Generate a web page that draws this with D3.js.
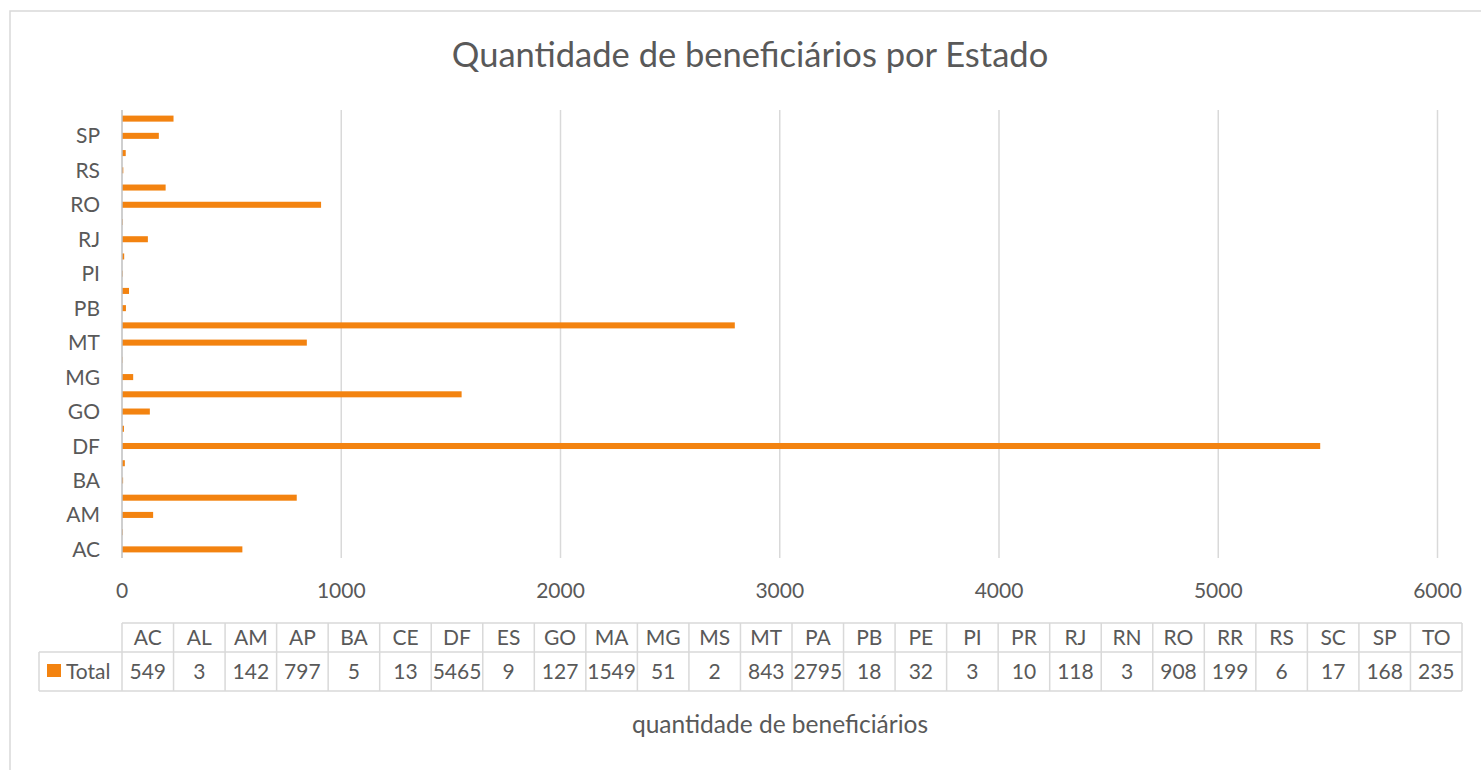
<!DOCTYPE html>
<html lang="pt">
<head>
  <meta charset="UTF-8">
  <script src="https://cdn.jsdelivr.net/npm/d3@7"></script>
  <title>Quantidade de beneficiários por Estado</title>
  <style>
    body { margin: 0; background: #fff; }
    text { font-family: Lato, "Open Sans", sans-serif; fill: #595959; }
  </style>
</head>
<body>
  <svg width="1481" height="770"></svg>
<script>
  // dados
  const estados = ["AC", "AL", "AM", "AP", "BA", "CE", "DF", "ES", "GO", "MA", "MG", "MS", "MT",
    "PA", "PB", "PE", "PI", "PR", "RJ", "RN", "RO", "RR", "RS", "SC", "SP", "TO"];
  const total = [549, 3, 142, 797, 5, 13, 5465, 9, 127, 1549, 51, 2, 843,
    2795, 18, 32, 3, 10, 118, 3, 908, 199, 6, 17, 168, 235];
  const xTicks = [0, 1000, 2000, 3000, 4000, 5000, 6000];
  const serieNome = "Total";

  const data = estados.map((e, i) => ({ estado: e, valor: total[i] }));

  const svg = d3.select("svg");
  const laranja = "#f38310";
  const cinza = "#d9d9d9";

  // borda do gráfico
  svg.append("rect")
    .attr("x", 10).attr("y", 11)
    .attr("width", 1600).attr("height", 900)
    .attr("fill", "none")
    .attr("stroke", cinza)
    .attr("stroke-width", 1.5);

  const plot = { left: 122, right: 1437.5, top: 110, bottom: 558 };

  const xScale = d3.scaleLinear()
    .domain([0, 6000])
    .range([plot.left, plot.right]);

  const yScale = d3.scaleBand()
    .domain(estados)
    .range([plot.bottom, plot.top])
    .paddingInner(0.65)
    .paddingOuter(0.325);

  // grade vertical
  svg.append("g")
    .selectAll("line")
    .data(xTicks.slice(1))
    .join("line")
    .attr("x1", d => xScale(d)).attr("x2", d => xScale(d))
    .attr("y1", plot.top).attr("y2", plot.bottom)
    .attr("stroke", cinza)
    .attr("stroke-width", 1.5);

  // rótulos do eixo x
  svg.append("g")
    .selectAll("text")
    .data(xTicks)
    .join("text")
    .attr("x", d => xScale(d))
    .attr("y", 598)
    .attr("text-anchor", "middle")
    .style("font-size", "21px")
    .text(d => d);

  // barras
  svg.append("g")
    .selectAll("rect")
    .data(data)
    .join("rect")
    .attr("x", xScale(0))
    .attr("y", d => yScale(d.estado))
    .attr("width", d => xScale(d.valor) - xScale(0))
    .attr("height", yScale.bandwidth())
    .attr("fill", laranja);

  // eixo y
  svg.append("line")
    .attr("x1", plot.left).attr("x2", plot.left)
    .attr("y1", plot.top).attr("y2", plot.bottom)
    .attr("stroke", "#bfbfbf")
    .attr("stroke-width", 1.5);

  svg.append("g")
    .selectAll("text")
    .data(estados.filter((e, i) => i % 2 === 0))
    .join("text")
    .attr("x", 100)
    .attr("y", d => yScale(d) + yScale.bandwidth() / 2)
    .attr("dy", "0.36em")
    .attr("text-anchor", "end")
    .style("font-size", "21px")
    .text(d => d);

  // tabela de dados
  const colScale = d3.scaleBand()
    .domain(estados)
    .range([122, 1462]);

  const tab = { left: 39, top: 623, mid: 652, bottom: 691 };
  const tabela = svg.append("g").attr("stroke", cinza).attr("stroke-width", 1.5);

  tabela.append("line").attr("x1", colScale.range()[0]).attr("x2", colScale.range()[1])
    .attr("y1", tab.top).attr("y2", tab.top);
  tabela.append("line").attr("x1", tab.left).attr("x2", colScale.range()[1])
    .attr("y1", tab.mid).attr("y2", tab.mid);
  tabela.append("line").attr("x1", tab.left).attr("x2", colScale.range()[1])
    .attr("y1", tab.bottom).attr("y2", tab.bottom);
  tabela.append("line").attr("x1", tab.left).attr("x2", tab.left)
    .attr("y1", tab.mid).attr("y2", tab.bottom);
  tabela.selectAll(".col")
    .data(estados.concat(["fim"]))
    .join("line")
    .attr("class", "col")
    .attr("x1", (d, i) => colScale.range()[0] + i * colScale.step())
    .attr("x2", (d, i) => colScale.range()[0] + i * colScale.step())
    .attr("y1", tab.top).attr("y2", tab.bottom);

  svg.append("g")
    .selectAll("text")
    .data(estados)
    .join("text")
    .attr("x", d => colScale(d) + colScale.bandwidth() / 2)
    .attr("y", 645)
    .attr("text-anchor", "middle")
    .style("font-size", "21px")
    .text(d => d);

  svg.append("g")
    .selectAll("text")
    .data(data)
    .join("text")
    .attr("x", d => colScale(d.estado) + colScale.bandwidth() / 2)
    .attr("y", 679)
    .attr("text-anchor", "middle")
    .style("font-size", "21px")
    .text(d => d.valor);

  // legenda da série
  svg.append("rect")
    .attr("x", 47).attr("y", 664)
    .attr("width", 14).attr("height", 13)
    .attr("fill", laranja);
  svg.append("text")
    .attr("x", 66).attr("y", 679)
    .style("font-size", "21px")
    .text(serieNome);

  // título
  svg.append("text")
    .attr("x", 750).attr("y", 67)
    .attr("text-anchor", "middle")
    .style("font-size", "34.5px")
    .text("Quantidade de beneficiários por Estado");

  // título do eixo
  svg.append("text")
    .attr("x", 780).attr("y", 733)
    .attr("text-anchor", "middle")
    .style("font-size", "24.5px")
    .text("quantidade de beneficiários");
</script>
</body>
</html>
